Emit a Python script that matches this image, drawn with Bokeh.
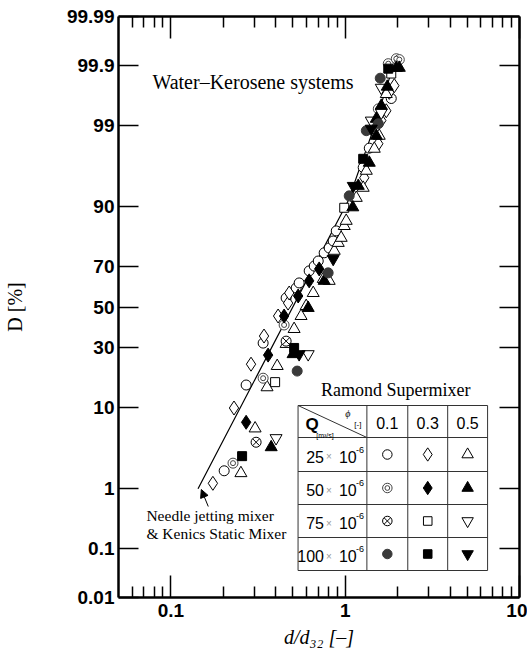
import math
from statistics import NormalDist
from bokeh.plotting import figure
from bokeh.models import Range1d, FixedTicker, LinearAxis, LogAxis, Label, Arrow, NormalHead, BasicTickFormatter
from bokeh.embed import file_html
from bokeh.resources import INLINE

# ---------------- data (d/d32 [-], D [%]) ----------------
# Q = 25e-6 m3/s
d_25_01 = [0.202, 0.270, 0.338, 0.458, 0.523, 0.544, 0.621, 0.664, 0.700, 0.757, 0.809, 0.853, 0.888, 1.268, 1.374, 1.837]
D_25_01 = [1.8, 15.9, 32.2, 54.6, 59.6, 62.1, 67.8, 70.0, 72.2, 75.6, 77.5, 80.1, 83.5, 96.3, 97.9, 99.62]
d_25_03 = [0.174, 0.230, 0.288, 0.342, 0.412, 0.470, 0.477, 1.286, 1.548, 1.610, 1.720, 1.790, 1.913]
D_25_03 = [1.2, 9.8, 23.2, 35.5, 45.4, 52.0, 57.1, 95.1, 98.17, 99.15, 99.40, 99.70, 99.77]
d_25_05 = [0.252, 0.304, 0.356, 0.407, 0.458, 0.509, 0.558, 0.597, 0.655, 0.748, 0.809, 0.865, 0.912, 0.948, 0.987, 1.013, 1.157, 1.268, 1.321, 1.468, 1.567, 1.720]
D_25_05 = [1.67, 6.0, 15.2, 22.5, 31.8, 38.9, 45.4, 50.5, 57.1, 64.0, 63.1, 76.4, 79.4, 81.2, 85.0, 86.5, 91.88, 93.65, 95.94, 97.86, 98.58, 99.68]
# Q = 50e-6 m3/s
d_50_01 = [0.227, 0.338, 0.446, 1.548, 1.766, 1.964, 2.043]
D_50_01 = [2.28, 18.1, 40.9, 99.44, 99.908, 99.926, 99.923]
d_50_03 = [0.270, 0.361, 0.446, 0.537, 0.621, 0.709]
D_50_03 = [7.0, 26.9, 45.4, 55.6, 63.1, 68.7]
d_50_05 = [0.376, 0.502, 0.613, 0.757, 1.105, 1.188, 1.374, 1.507, 1.507, 1.610, 1.743, 1.964, 2.043]
D_50_05 = [3.63, 27.3, 49.5, 63.1, 89.9, 93.95, 96.76, 98.58, 99.20, 99.50, 99.76, 99.89, 99.89]
# Q = 75e-6 m3/s
d_75_01 = [0.308, 0.458]
D_75_01 = [4.17, 33.1]
d_75_03 = [0.396, 0.987, 1.837]
D_75_03 = [16.8, 89.8, 99.86]
d_75_05 = [0.401, 0.613, 1.411, 1.610, 1.610]
D_75_05 = [4.66, 27.3, 99.15, 99.36, 99.75]
# Q = 100e-6 m3/s
d_100_01 = [0.530, 0.798, 1.054, 1.321, 1.548, 1.588]
D_100_01 = [20.6, 66.9, 92.26, 98.80, 99.05, 99.83]
d_100_03 = [0.256, 0.509, 1.268, 1.766]
D_100_03 = [2.81, 30.0, 97.11, 99.886]
d_100_05 = [0.544, 0.853, 1.112, 1.411]
D_100_05 = [27.3, 73.1, 93.95, 98.88]

# correlation line (Needle jetting mixer & Kenics Static Mixer)
line_d = [0.143, 1.04, 1.41, 1.89]
line_D = [1.0, 91.3, 98.6, 99.9]

# axes
x_ticks = [0.1, 1, 10]
x_tick_labels = ["0.1", "1", "10"]
x_minor = [0.06, 0.07, 0.08, 0.09, 0.2, 0.3, 0.4, 0.5, 0.6, 0.7, 0.8, 0.9, 2, 3, 4, 5, 6, 7, 8, 9]
y_ticks = [0.01, 0.1, 1, 10, 30, 50, 70, 90, 99, 99.9, 99.99]
y_tick_labels = ["0.01", "0.1", "1", "10", "30", "50", "70", "90", "99", "99.9", "99.99"]
x_title = "d/d\u2083\u2082 [\u2013]"
y_title = "D [%]"

# legend table texts
q_labels = ["25", "50", "75", "100"]
phi_labels = ["0.1", "0.3", "0.5"]

# ---------------- helpers ----------------
ND = NormalDist()


def probit(v):
    return ND.inv_cdf(v / 100.0)


Z_TOP = ND.inv_cdf(0.9999) + 1e-9
X_LO, X_HI = 0.05, 10.00001

# frame geometry in canvas pixels
FL, FR, FT, FB = 117, 519, 16, 597
W, H = 527, 651


def inv_x(px):
    return 10 ** (math.log10(X_LO) + (px - FL) / (FR - FL) * math.log10(X_HI / X_LO))


def inv_y(py):
    return Z_TOP - (py - FT) / (FB - FT) * (2 * Z_TOP)


p = figure(width=W, height=H, x_axis_type="log",
           x_range=Range1d(X_LO, X_HI), y_range=Range1d(-Z_TOP, Z_TOP),
           output_backend="svg", toolbar_location=None,
           min_border_left=FL, min_border_right=W - FR, min_border_top=FT, min_border_bottom=H - FB,
           outline_line_color=None, background_fill_color="white", border_fill_color="white")
p.grid.visible = False

TICK_FONT = "Liberation Sans"


def base_axis(ax):
    ax.axis_line_width = 2.5
    ax.axis_line_color = "black"
    ax.major_tick_out = 0
    ax.minor_tick_out = 0
    ax.major_tick_line_width = 1.5
    ax.minor_tick_line_width = 1.5
    ax.major_tick_line_color = "black"
    ax.minor_tick_line_color = "black"
    ax.major_label_text_color = "black"
    ax.axis_label_text_color = "black"


# bottom x axis
xa = p.xaxis[0]
base_axis(xa)
xa.ticker = FixedTicker(ticks=x_ticks, minor_ticks=x_minor)
xa.formatter = BasicTickFormatter()
xa.major_label_overrides = {t: s for t, s in zip(x_ticks, x_tick_labels)}
xa.major_tick_in = 22
xa.minor_tick_in = 11
xa.major_label_standoff = 6
xa.major_label_text_font = TICK_FONT
xa.major_label_text_font_style = "bold"
xa.major_label_text_font_size = "19px"
xa.axis_label = x_title
xa.axis_label_text_font = "Liberation Serif"
xa.axis_label_text_font_style = "italic"
xa.axis_label_text_font_size = "20px"
xa.axis_label_standoff = 6

# top x axis (ticks only)
xt = LogAxis(ticker=FixedTicker(ticks=x_ticks, minor_ticks=x_minor), formatter=BasicTickFormatter())
base_axis(xt)
xt.major_tick_in = 22
xt.minor_tick_in = 11
xt.major_label_overrides = {t: "" for t in x_ticks}
xt.major_label_standoff = 0
p.add_layout(xt, "above")

# left y axis (probability scale)
y_z = [probit(v) for v in y_ticks]
ya = p.yaxis[0]
base_axis(ya)
ya.ticker = FixedTicker(ticks=y_z, minor_ticks=[])
ya.major_label_overrides = {z: s for z, s in zip(y_z, y_tick_labels)}
ya.major_tick_in = 20
ya.minor_tick_in = 0
ya.major_label_standoff = 4
ya.major_label_text_font = TICK_FONT
ya.major_label_text_font_style = "bold"
ya.major_label_text_font_size = "19px"
ya.axis_label = y_title
ya.axis_label_text_font = "Liberation Serif"
ya.axis_label_text_font_style = "normal"
ya.axis_label_text_font_size = "20px"
ya.axis_label_standoff = 38

# right y axis (ticks only)
yr = LinearAxis(ticker=FixedTicker(ticks=y_z, minor_ticks=[]))
base_axis(yr)
yr.major_tick_in = 20
yr.minor_tick_in = 0
yr.major_label_overrides = {z: "" for z in y_z}
yr.major_label_standoff = 0
p.add_layout(yr, "right")

# correlation line
p.line(line_d, [probit(v) for v in line_D], line_color="black", line_width=1.2)

# ---------------- markers ----------------
GRAY = "#3a3a3a"


def draw_series(kind, xs, ys, scale=1.0):
    if kind == "c_open":
        p.scatter(xs, ys, marker="circle", size=10 * scale, fill_color="white", line_color="black", line_width=1)
    elif kind == "d_open":
        p.scatter(xs, ys, marker="diamond", size=14 * scale, fill_color="white", line_color="black", line_width=1)
    elif kind == "t_open":
        p.scatter(xs, ys, marker="triangle", size=12 * scale, fill_color="white", line_color="black", line_width=1)
    elif kind == "cc":
        p.scatter(xs, ys, marker="circle", size=10 * scale, fill_color="white", line_color="#444444", line_width=1)
        p.scatter(xs, ys, marker="circle", size=5 * scale, fill_color="white", line_color="#444444", line_width=1)
    elif kind == "d_fill":
        p.scatter(xs, ys, marker="diamond", size=14 * scale, fill_color="black", line_color="black")
    elif kind == "t_fill":
        p.scatter(xs, ys, marker="triangle", size=12 * scale, fill_color="black", line_color="black")
    elif kind == "cx":
        p.scatter(xs, ys, marker="circle_x", size=10 * scale, fill_color="white", line_color="black", line_width=1)
    elif kind == "s_open":
        p.scatter(xs, ys, marker="square", size=9 * scale, fill_color="white", line_color="black", line_width=1)
    elif kind == "it_open":
        p.scatter(xs, ys, marker="inverted_triangle", size=12 * scale, fill_color="white", line_color="black", line_width=1)
    elif kind == "c_fill":
        p.scatter(xs, ys, marker="circle", size=10 * scale, fill_color=GRAY, line_color=GRAY)
    elif kind == "s_fill":
        p.scatter(xs, ys, marker="square", size=9 * scale, fill_color="black", line_color="black")
    elif kind == "it_fill":
        p.scatter(xs, ys, marker="inverted_triangle", size=12 * scale, fill_color="black", line_color="black")


series = [
    ("c_open", d_25_01, D_25_01), ("d_open", d_25_03, D_25_03), ("t_open", d_25_05, D_25_05),
    ("cc", d_50_01, D_50_01), ("cx", d_75_01, D_75_01), ("s_open", d_75_03, D_75_03),
    ("it_open", d_75_05, D_75_05),
    ("d_fill", d_50_03, D_50_03), ("t_fill", d_50_05, D_50_05),
    ("c_fill", d_100_01, D_100_01), ("s_fill", d_100_03, D_100_03), ("it_fill", d_100_05, D_100_05),
]
for kind, xs, Ds in series:
    draw_series(kind, xs, [probit(v) for v in Ds])

# ---------------- legend table ----------------
T_ROWS = [405, 437, 471, 504, 537, 570]
T_COLS = [297, 366, 407, 447, 487]
p.quad(left=[inv_x(T_COLS[0])], right=[inv_x(T_COLS[-1])], top=[inv_y(T_ROWS[0])], bottom=[inv_y(T_ROWS[-1])],
       fill_color="white", line_color=None)
p.segment(x0=[inv_x(T_COLS[0])] * len(T_ROWS), x1=[inv_x(T_COLS[-1])] * len(T_ROWS),
          y0=[inv_y(r) for r in T_ROWS], y1=[inv_y(r) for r in T_ROWS], line_color="#333333", line_width=1)
p.segment(x0=[inv_x(c) for c in T_COLS], x1=[inv_x(c) for c in T_COLS],
          y0=[inv_y(T_ROWS[0])] * len(T_COLS), y1=[inv_y(T_ROWS[-1])] * len(T_COLS), line_color="#333333", line_width=1)
p.segment(x0=[inv_x(T_COLS[0])], x1=[inv_x(T_COLS[1])], y0=[inv_y(T_ROWS[0])], y1=[inv_y(T_ROWS[1])],
          line_color="#333333", line_width=1)


def lab(px, py, text, size, font="Liberation Serif", style="normal", align="left", baseline="middle",
        color="black", angle=0.0):
    p.add_layout(Label(x=inv_x(px), y=inv_y(py), text=text, text_font=font, text_font_size=f"{size}px",
                       text_font_style=style, text_align=align, text_baseline=baseline,
                       text_color=color, angle=angle))


col_c = [(T_COLS[i] + T_COLS[i + 1]) / 2 for i in range(1, 4)]
row_c = [(T_ROWS[i] + T_ROWS[i + 1]) / 2 for i in range(1, 5)]
for cx, s in zip(col_c, phi_labels):
    lab(cx, 422, s, 16, font="Liberation Sans", align="center")
for ry, s in zip(row_c, q_labels):
    lab(323, ry + 2, s, 16, font="Liberation Sans", align="right")
    lab(328, ry + 2, "\u00d7", 10, font="Liberation Sans", align="center", color="#999999")
    lab(338, ry + 2, "10", 16, font="Liberation Sans")
    lab(355, ry - 5, "-6", 9, font="Liberation Sans")
# header cell
lab(311, 424, "Q", 17, font="Liberation Sans", style="bold", align="center")
lab(324, 435, "[m\u00b3/s]", 7, font="Liberation Sans", align="center")
lab(347, 413, "\u03d5", 10, style="italic", align="center")
lab(357, 424, "[-]", 8, font="Liberation Sans", align="center")

legend_kinds = [["c_open", "d_open", "t_open"], ["cc", "d_fill", "t_fill"],
                ["cx", "s_open", "it_open"], ["c_fill", "s_fill", "it_fill"]]
for ry, kinds in zip(row_c, legend_kinds):
    for cx, kind in zip(col_c, kinds):
        draw_series(kind, [inv_x(cx)], [inv_y(ry)], scale=0.95)

# ---------------- annotations ----------------
lab(151, 81, "Water\u2013Kerosene systems", 20)
lab(320, 389, "Ramond Supermixer", 18)
lab(145, 515, "Needle jetting mixer", 15.5)
lab(145, 533, "& Kenics Static Mixer", 15.5)
p.add_layout(Arrow(end=NormalHead(size=8, fill_color="black", line_color="black", line_width=1),
                   x_start=inv_x(207), y_start=inv_y(506), x_end=inv_x(200), y_end=inv_y(489),
                   line_color="black", line_width=1))

open("out.html", "w").write(file_html(p, INLINE))
